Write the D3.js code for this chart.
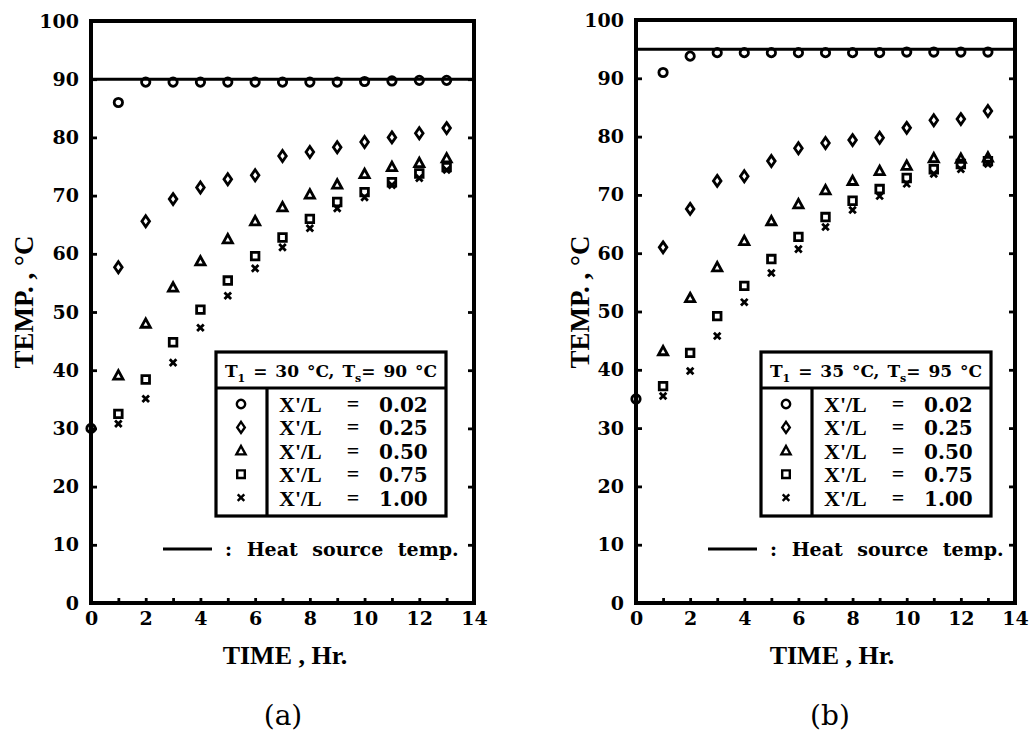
<!DOCTYPE html>
<html>
<head>
<meta charset="utf-8">
<script src="https://cdn.jsdelivr.net/npm/d3@7"></script>
<style>
  body { margin: 0; background: #fff; }
  text { font-family: "Liberation Serif", serif; font-weight: bold; fill: #000; }
</style>
</head>
<body>
<svg id="frame"></svg>
<script>
const width = 1031;
const height = 737;

// data
const timeFull = [0, 1, 2, 3, 4, 5, 6, 7, 8, 9, 10, 11, 12, 13];
const time = [1, 2, 3, 4, 5, 6, 7, 8, 9, 10, 11, 12, 13];
const xTicks = [0, 1, 2, 3, 4, 5, 6, 7, 8, 9, 10, 11, 12, 13, 14];
const yTicks = [0, 10, 20, 30, 40, 50, 60, 70, 80, 90, 100];
const ratios = ['0.02', '0.25', '0.50', '0.75', '1.00'];

// (a) T1 = 30, Ts = 90
const a002 = [30, 86, 89.5, 89.5, 89.5, 89.5, 89.5, 89.5, 89.5, 89.5, 89.6, 89.7, 89.8, 89.8];
const a025 = [57.7, 65.6, 69.4, 71.4, 72.8, 73.5, 76.8, 77.5, 78.3, 79.2, 80, 80.7, 81.6];
const a050 = [39.1, 48, 54.2, 58.7, 62.5, 65.6, 68, 70.2, 71.9, 73.7, 74.9, 75.6, 76.4];
const a075 = [32.5, 38.4, 44.8, 50.4, 55.4, 59.6, 62.8, 66, 68.9, 70.6, 72.3, 73.8, 74.9];
const a100 = [30.8, 35.1, 41.3, 47.3, 52.8, 57.5, 61.1, 64.4, 67.8, 69.7, 71.8, 73, 74.4];

// (b) T1 = 35, Ts = 95
const b002 = [35, 91, 93.8, 94.4, 94.4, 94.4, 94.4, 94.4, 94.4, 94.4, 94.5, 94.5, 94.5, 94.5];
const b025 = [61, 67.6, 72.4, 73.2, 75.8, 78, 78.9, 79.4, 79.8, 81.5, 82.8, 83, 84.4];
const b050 = [43.2, 52.3, 57.6, 62.1, 65.5, 68.4, 70.8, 72.4, 74.1, 75, 76.3, 76.2, 76.4];
const b075 = [37.2, 42.9, 49.2, 54.4, 59, 62.8, 66.2, 69, 71, 72.9, 74.4, 75.3, 75.8];
const b100 = [35.5, 39.8, 45.8, 51.6, 56.6, 60.7, 64.5, 67.4, 69.8, 71.9, 73.6, 74.4, 75.3];

const sourceTemp = [90, 95];
const initTemp = ['30', '35'];
const captions = ['(a)', '(b)'];

const numFont = '"DejaVu Serif", serif';

// marker shapes
const shapes = [
  d3.symbol(d3.symbolCircle, 55)(),
  'M0,-5.5L3.8,0L0,5.5L-3.8,0Z',
  'M0,-4.8L4.6,3.6L-4.6,3.6Z',
  'M-3.8,-3.8H3.8V3.8H-3.8Z',
  'M-3.3,-3.3L3.3,3.3M3.3,-3.3L-3.3,3.3'
];

const svg = d3.select('#frame')
  .attr('width', width)
  .attr('height', height);
svg.append('rect').attr('width', width).attr('height', height).attr('fill', '#fff');

const panels = [
  {left: 91, right: 474, top: 21, bottom: 603, ylab: 27, xlab: 285, cap: 283,
   series: [[timeFull, a002], [time, a025], [time, a050], [time, a075], [time, a100]]},
  {left: 636, right: 1015, top: 20, bottom: 603, ylab: 583, xlab: 832, cap: 830,
   series: [[timeFull, b002], [time, b025], [time, b050], [time, b075], [time, b100]]}
];

panels.forEach((p, pi) => drawPanel(p, pi));

function drawPanel(p, pi) {
  const xScale = d3.scaleLinear().domain([0, 14]).range([p.left, p.right]);
  const yScale = d3.scaleLinear().domain([0, 100]).range([p.bottom, p.top]);

  const g = svg.append('g');

  // axes (ticks point inward)
  const yaxis = d3.axisLeft(yScale).tickValues(yTicks).tickSize(-6).tickPadding(12);
  const yaxisR = d3.axisRight(yScale).tickValues(yTicks).tickSize(-6).tickFormat('');
  const xaxis = d3.axisBottom(xScale).tickValues(xTicks).tickSize(-5).tickPadding(9)
    .tickFormat(d => d % 2 === 0 ? d : '');

  const ya = g.append('g').attr('transform', `translate(${p.left},0)`).call(yaxis);
  const yr = g.append('g').attr('transform', `translate(${p.right},0)`).call(yaxisR);
  const xa = g.append('g').attr('transform', `translate(0,${p.bottom})`).call(xaxis);
  [ya, yr, xa].forEach(a => {
    a.select('.domain').remove();
    a.selectAll('line').attr('stroke', '#000').attr('stroke-width', 2.8);
    a.selectAll('text').style('font-size', '19px').style('font-family', numFont)
      .style('font-weight', 'bold');
  });

  // frame
  g.append('rect')
    .attr('x', p.left).attr('y', p.top)
    .attr('width', p.right - p.left).attr('height', p.bottom - p.top)
    .attr('fill', 'none').attr('stroke', '#000').attr('stroke-width', 4);

  // heat source line
  g.append('line')
    .attr('x1', xScale(0)).attr('x2', xScale(14))
    .attr('y1', yScale(sourceTemp[pi])).attr('y2', yScale(sourceTemp[pi]))
    .attr('stroke', '#000').attr('stroke-width', 3);

  // markers
  p.series.forEach((s, si) => {
    const pts = s[0].map((t, i) => ({x: t, y: s[1][i]}));
    g.selectAll('.m' + si).data(pts).enter()
      .append('path')
      .attr('class', 'm' + si)
      .attr('d', shapes[si])
      .attr('transform', d => `translate(${xScale(d.x)},${yScale(d.y)})`)
      .attr('fill', 'none')
      .attr('stroke', '#000')
      .attr('stroke-width', 2.8);
  });

  // axis titles
  g.append('text')
    .attr('transform', `translate(${p.ylab},302) rotate(-90)`)
    .attr('text-anchor', 'middle')
    .attr('dominant-baseline', 'middle')
    .style('font-size', '27px')
    .text('TEMP. , °C');

  g.append('text')
    .attr('x', p.xlab).attr('y', 664)
    .attr('text-anchor', 'middle')
    .style('font-size', '26px')
    .text('TIME , Hr.');

  g.append('text')
    .attr('x', p.cap).attr('y', 725)
    .attr('text-anchor', 'middle')
    .style('font-family', '"DejaVu Serif", serif')
    .style('font-weight', 'normal')
    .style('font-size', '28px')
    .text(captions[pi]);

  // legend box
  const lx = p.left + 125;
  const lg = g.append('g').attr('transform', `translate(${lx},0)`);
  lg.append('rect').attr('x', 0).attr('y', 352).attr('width', 230).attr('height', 164)
    .attr('fill', '#fff').attr('stroke', '#000').attr('stroke-width', 3.2);
  lg.append('line').attr('x1', 0).attr('x2', 230).attr('y1', 388).attr('y2', 388)
    .attr('stroke', '#000').attr('stroke-width', 3.2);
  lg.append('line').attr('x1', 51).attr('x2', 51).attr('y1', 388).attr('y2', 516)
    .attr('stroke', '#000').attr('stroke-width', 3.2);

  const head = lg.append('text').attr('x', 115).attr('y', 377)
    .attr('text-anchor', 'middle').style('font-size', '17px')
    .style('font-family', numFont).style('word-spacing', '2px');
  head.append('tspan').text('T');
  head.append('tspan').attr('dy', 5).style('font-size', '11px').text('1');
  head.append('tspan').attr('dy', -5).text(` = ${initTemp[pi]} °C, T`);
  head.append('tspan').attr('dy', 5).style('font-size', '11px').text('s');
  head.append('tspan').attr('dy', -5).text(`= ${sourceTemp[pi]} °C`);

  ratios.forEach((r, i) => {
    const yy = 404 + i * 23.4;
    lg.append('path').attr('d', shapes[i])
      .attr('transform', `translate(25,${yy})`)
      .attr('fill', 'none').attr('stroke', '#000').attr('stroke-width', 2.4);
    lg.append('text').attr('x', 63).attr('y', yy + 8).style('font-size', '22px').text("X'/L");
    lg.append('text').attr('x', 137).attr('y', yy + 7).attr('text-anchor', 'middle')
      .style('font-size', '22px').text('=');
    lg.append('text').attr('x', 163).attr('y', yy + 8).style('font-size', '20px')
      .style('font-family', numFont).text(r);
  });

  // heat source key
  g.append('line').attr('x1', p.left + 72).attr('x2', p.left + 121)
    .attr('y1', 549).attr('y2', 549).attr('stroke', '#000').attr('stroke-width', 3);
  g.append('text').attr('x', p.left + 134).attr('y', 556)
    .style('font-size', '19px').style('font-family', numFont).style('word-spacing', '8px')
    .text(': Heat source temp.');
}
</script>
</body>
</html>
